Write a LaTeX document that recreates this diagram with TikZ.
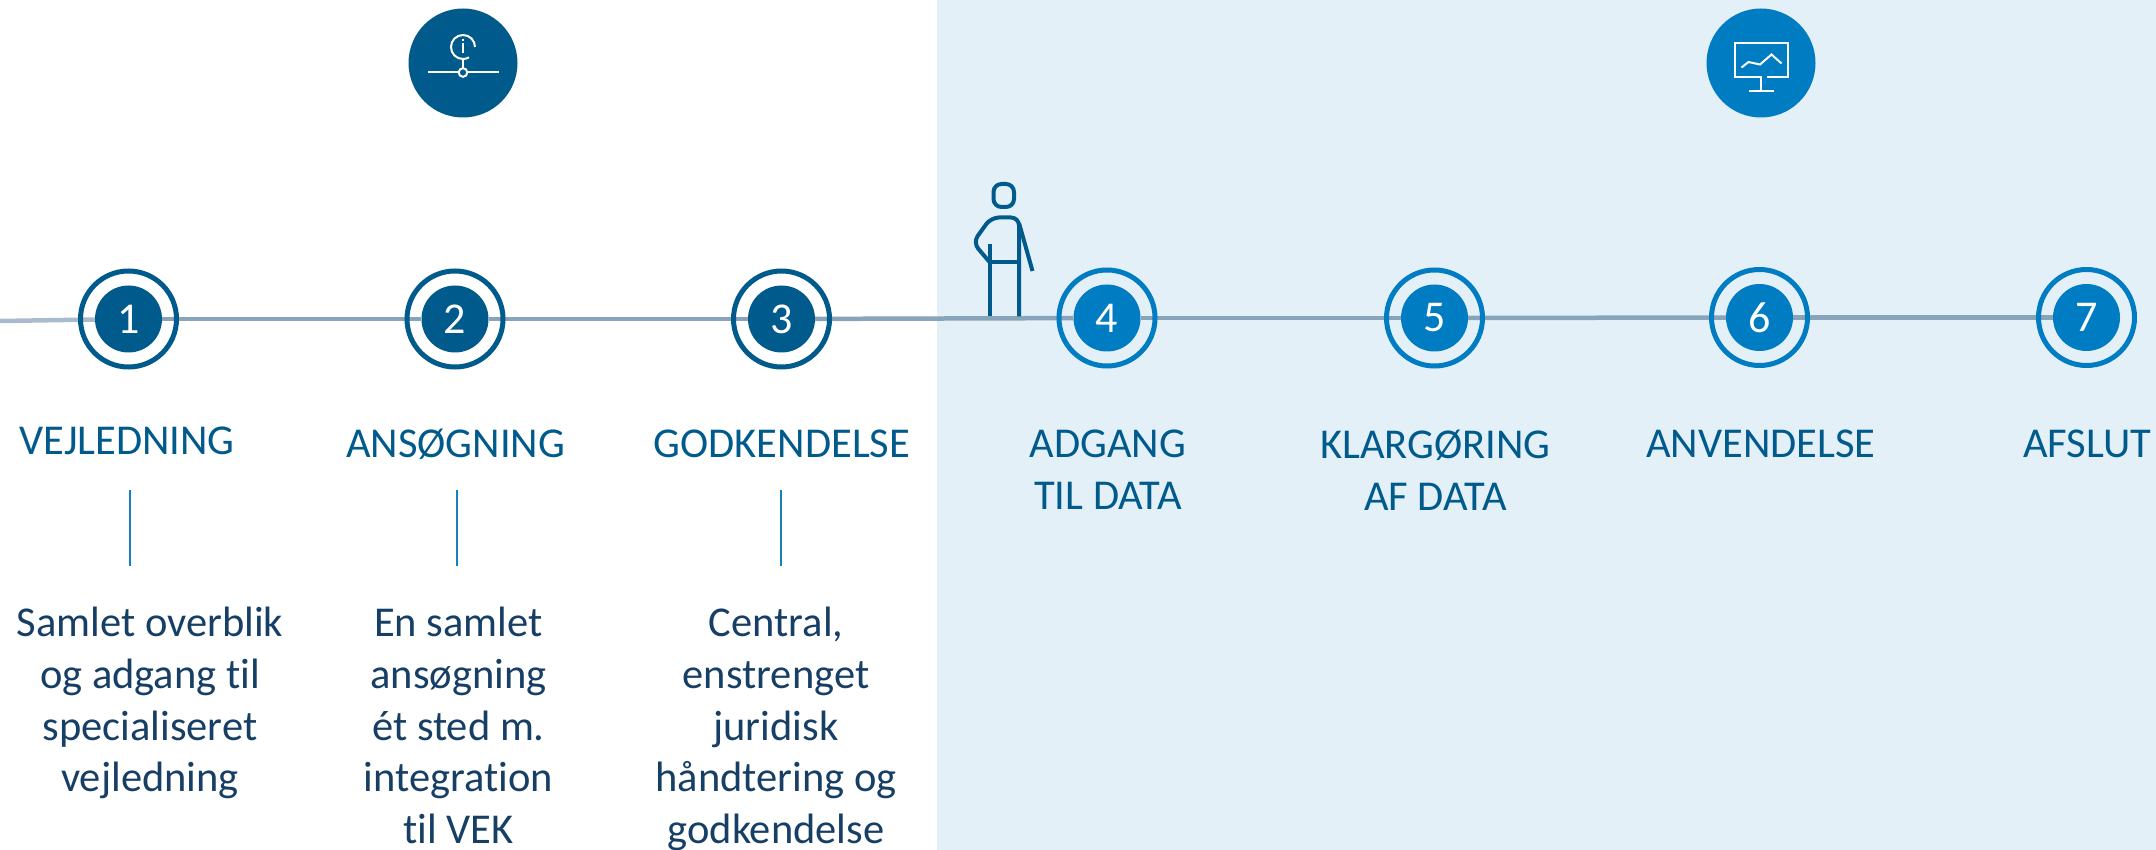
\documentclass[tikz,border=0pt]{standalone}
\usepackage{fontspec}
\setmainfont[Ligatures=NoCommon]{Carlito}
\definecolor{dkblue}{HTML}{005A8C}
\definecolor{ltblue}{HTML}{007CC3}
\definecolor{panel}{HTML}{E3F0F8}
\definecolor{lineblue}{HTML}{88A4BA}
\definecolor{linelt}{HTML}{A9BCCE}
\definecolor{bodytxt}{HTML}{173F66}
\definecolor{tick}{HTML}{1B7EBF}
\tikzset{
  x=1pt,y=-1pt,
  ringA/.style={circle,draw=dkblue,line width=5pt,minimum size=96pt,inner sep=0pt},
  ringB/.style={circle,draw=ltblue,line width=5pt,minimum size=96pt,inner sep=0pt},
  discA/.style={circle,fill=dkblue,text=white,minimum size=67pt,inner sep=0pt,font=\fontsize{44}{44}\selectfont},
  discB/.style={circle,fill=ltblue,text=white,minimum size=67pt,inner sep=0pt,font=\fontsize{44}{44}\selectfont},
  conn/.style={draw=lineblue,line width=4.5pt},
  head/.style={text=dkblue,align=center,inner sep=0pt,font=\fontsize{42.5}{52}\selectfont},
  bodyt/.style={text=bodytxt,align=center,inner sep=0pt,anchor=north,font=\fontsize{42.5}{51.7}\selectfont},
  tickl/.style={draw=tick,line width=2pt},
  white line/.style={draw=white,line width=2pt},
  person/.style={draw=dkblue,line width=4pt,line join=round},
  icondisc/.style={circle,inner sep=0pt,minimum size=109pt}
}
\begin{document}
\begin{tikzpicture}
\useasboundingbox (0,0) rectangle (2156,850);
\fill[panel] (937,0) rectangle (2156,850);
% top icons
\node[icondisc,fill=dkblue] (ia) at (463,63) {};
\node[icondisc,fill=ltblue] (ib) at (1761,63) {};
\draw[white line] (428,72.5) -- (458.7,72.5);
\draw[white line] (467.3,72.5) -- (499,72.5);
\draw[white line] (463,72.5) circle (4.3);
\draw[white line] (463,59) -- (463,68.2);
\draw[white line] (475,47) arc (0:-300:12);
\draw[white line] (463,43) -- (463,53);
\draw[white line,line width=1.6pt] (463,39) -- (463,41);
\draw[white line] (1761,91) -- (1761,77.5) -- (1734.5,77.5) -- (1734.5,43.5) -- (1788,43.5) -- (1788,77.5) -- (1767,77.5);
\draw[white line] (1749,91) -- (1774,91);
\draw[white line] (1741.5,67.5) -- (1748.5,62) -- (1760,64.5) -- (1771.5,54.5) -- (1781.5,63.5);
% circles
\coordinate (start) at (0,321);
\node[discA] (c1) at (128.5,319) {1};
\node[discA] (c2) at (455,319) {2};
\node[discA] (c3) at (781.5,319) {3};
\node[discB] (c4) at (1107,318) {4};
\node[discB] (c5) at (1434.5,318) {5};
\node[discB] (c6) at (1759.5,317.5) {6};
\node[discB] (c7) at (2086.5,317.5) {7};
\draw[conn,draw=linelt] (start) -- (c1);
\draw[conn] (c1) -- (c2);
\draw[conn] (c2) -- (c3);
\draw[conn] (c3) -- (c4);
\draw[conn] (c4) -- (c5);
\draw[conn] (c5) -- (c6);
\draw[conn] (c6) -- (c7);
\node[ringA] (r1) at (c1) {};
\node[ringA] (r2) at (c2) {};
\node[ringA] (r3) at (c3) {};
\node[ringB] (r4) at (c4) {};
\node[ringB] (r5) at (c5) {};
\node[ringB] (r6) at (c6) {};
\node[ringB] (r7) at (c7) {};
% person
\draw[person,rounded corners=8pt] (993.5,184) rectangle (1014,207);
\draw[person] (989.5,316.5) -- (989.5,244);
\draw[person,rounded corners=8pt] (1019,316.5) -- (1019,217.5) -- (991,217.5) -- (973,242.5) -- (989.5,262);
\draw[person] (989.5,262.5) -- (1019,262.5);
\draw[person] (1019,223) -- (1032.5,271);
% heads
\node[head] (h1) at (127,441) {VEJLEDNING};
\node[head] (h2) at (455.5,444) {ANSØGNING};
\node[head] (h3) at (782,444) {GODKENDELSE};
\node[head,anchor=north] (h4) at (1108,430) {ADGANG\\TIL DATA};
\node[head,anchor=north] (h5) at (1435.5,430) {KLARGØRING\\AF DATA};
\node[head] (h6) at (1761,444) {ANVENDELSE};
\node[head] (h7) at (2087,444) {AFSLUT};
% ticks
\coordinate (t1a) at (129.5,490); \coordinate (t1b) at (129.5,566);
\coordinate (t2a) at (457,490); \coordinate (t2b) at (457,566);
\coordinate (t3a) at (781,490); \coordinate (t3b) at (781,566);
\draw[tickl] (t1a) -- (t1b);
\draw[tickl] (t2a) -- (t2b);
\draw[tickl] (t3a) -- (t3b);
% body
\node[bodyt] (b1) at (150,607) {Samlet overblik\\og adgang til\\specialiseret\\vejledning};
\node[bodyt] (b2) at (458.5,607) {En samlet\\ansøgning\\ét sted m.\\integration\\til VEK};
\node[bodyt] (b3) at (776,607) {Central,\\enstrenget\\juridisk\\håndtering og\\godkendelse};
\end{tikzpicture}
\end{document}
